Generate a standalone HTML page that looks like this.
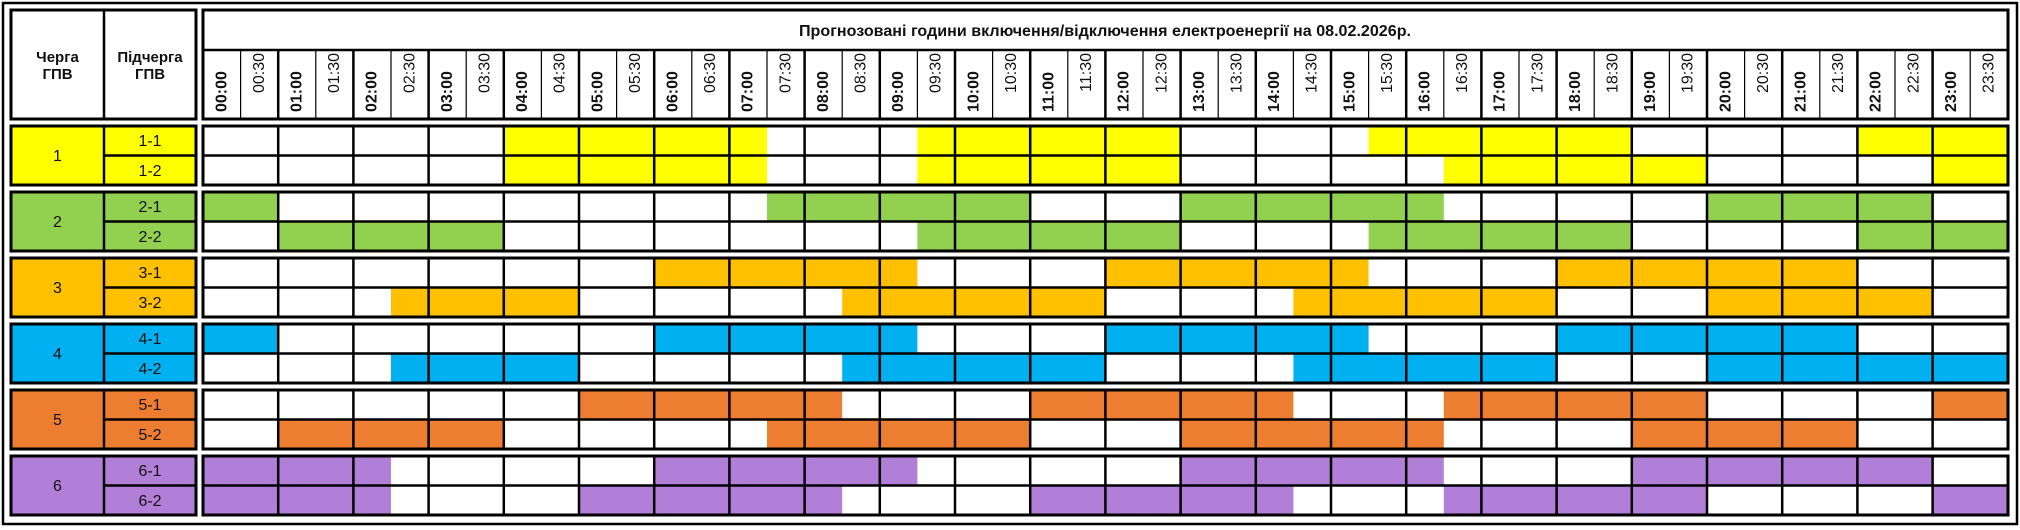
<!DOCTYPE html>
<html><head><meta charset="utf-8"><style>
html,body{margin:0;padding:0;background:#fff;}
svg{display:block;}
text{font-family:"Liberation Sans",Arial,sans-serif;fill:#111;}
</style></head><body>
<svg width="2020" height="530" viewBox="0 0 2020 530" xmlns="http://www.w3.org/2000/svg">
<rect x="0" y="0" width="2020" height="530" fill="#fff"/>
<rect x="3" y="3" width="2014" height="521" fill="none" stroke="#000" stroke-width="2.5"/>

<rect x="11" y="10" width="185" height="109" fill="#fff" stroke="#000" stroke-width="3"/>
<line x1="104" y1="10" x2="104" y2="119" stroke="#000" stroke-width="2.5"/>
<text x="57.5" y="62" font-size="15" font-weight="bold" text-anchor="middle">Черга</text>
<text x="57.5" y="79" font-size="15" font-weight="bold" text-anchor="middle">ГПВ</text>
<text x="150" y="62" font-size="15" font-weight="bold" text-anchor="middle">Підчерга</text>
<text x="150" y="79" font-size="15" font-weight="bold" text-anchor="middle">ГПВ</text>

<g stroke="#000">
<rect x="11" y="126" width="185" height="59" fill="#FFFF00" stroke-width="3"/>
<rect x="11" y="192" width="185" height="59" fill="#92D050" stroke-width="3"/>
<rect x="11" y="258" width="185" height="59" fill="#FFC000" stroke-width="3"/>
<rect x="11" y="324" width="185" height="59" fill="#00B0F0" stroke-width="3"/>
<rect x="11" y="390" width="185" height="59" fill="#ED7D31" stroke-width="3"/>
<rect x="11" y="456" width="185" height="59" fill="#B17ED8" stroke-width="3"/>
<g stroke-width="2.5">
<line x1="104" y1="126" x2="104" y2="185"/><line x1="104" y1="155.5" x2="196" y2="155.5"/>
<line x1="104" y1="192" x2="104" y2="251"/><line x1="104" y1="221.5" x2="196" y2="221.5"/>
<line x1="104" y1="258" x2="104" y2="317"/><line x1="104" y1="287.5" x2="196" y2="287.5"/>
<line x1="104" y1="324" x2="104" y2="383"/><line x1="104" y1="353.5" x2="196" y2="353.5"/>
<line x1="104" y1="390" x2="104" y2="449"/><line x1="104" y1="419.5" x2="196" y2="419.5"/>
<line x1="104" y1="456" x2="104" y2="515"/><line x1="104" y1="485.5" x2="196" y2="485.5"/>
</g></g>
<g font-size="16" text-anchor="middle">
<text x="57.5" y="161">1</text><text x="150" y="146">1-1</text><text x="150" y="176">1-2</text>
<text x="57.5" y="227">2</text><text x="150" y="212">2-1</text><text x="150" y="242">2-2</text>
<text x="57.5" y="293">3</text><text x="150" y="278">3-1</text><text x="150" y="308">3-2</text>
<text x="57.5" y="359">4</text><text x="150" y="344">4-1</text><text x="150" y="374">4-2</text>
<text x="57.5" y="425">5</text><text x="150" y="410">5-1</text><text x="150" y="440">5-2</text>
<text x="57.5" y="491">6</text><text x="150" y="476">6-1</text><text x="150" y="506">6-2</text>
</g>

<rect x="203" y="10" width="1805" height="109" fill="#fff" stroke="#000" stroke-width="3"/>
<line x1="203" y1="50" x2="2008" y2="50" stroke="#000" stroke-width="2.5"/>
<text x="1105" y="36" font-size="16" font-weight="bold" text-anchor="middle" textLength="612" lengthAdjust="spacingAndGlyphs">Прогнозовані години включення/відключення електроенергії на 08.02.2026р.</text>
<g stroke="#000" stroke-width="1.2">
<line x1="240.6" y1="50" x2="240.6" y2="119"/><line x1="315.8" y1="50" x2="315.8" y2="119"/><line x1="391" y1="50" x2="391" y2="119"/><line x1="466.2" y1="50" x2="466.2" y2="119"/><line x1="541.4" y1="50" x2="541.4" y2="119"/><line x1="616.6" y1="50" x2="616.6" y2="119"/><line x1="691.8" y1="50" x2="691.8" y2="119"/><line x1="767" y1="50" x2="767" y2="119"/><line x1="842.2" y1="50" x2="842.2" y2="119"/><line x1="917.4" y1="50" x2="917.4" y2="119"/><line x1="992.6" y1="50" x2="992.6" y2="119"/><line x1="1067.8" y1="50" x2="1067.8" y2="119"/><line x1="1143" y1="50" x2="1143" y2="119"/><line x1="1218.2" y1="50" x2="1218.2" y2="119"/><line x1="1293.4" y1="50" x2="1293.4" y2="119"/><line x1="1368.6" y1="50" x2="1368.6" y2="119"/><line x1="1443.8" y1="50" x2="1443.8" y2="119"/><line x1="1519" y1="50" x2="1519" y2="119"/><line x1="1594.2" y1="50" x2="1594.2" y2="119"/><line x1="1669.4" y1="50" x2="1669.4" y2="119"/><line x1="1744.6" y1="50" x2="1744.6" y2="119"/><line x1="1819.8" y1="50" x2="1819.8" y2="119"/><line x1="1895" y1="50" x2="1895" y2="119"/><line x1="1970.2" y1="50" x2="1970.2" y2="119"/>
</g>
<g stroke="#000" stroke-width="2.5">
<line x1="278.2" y1="50" x2="278.2" y2="119"/><line x1="353.4" y1="50" x2="353.4" y2="119"/><line x1="428.6" y1="50" x2="428.6" y2="119"/><line x1="503.8" y1="50" x2="503.8" y2="119"/><line x1="579" y1="50" x2="579" y2="119"/><line x1="654.2" y1="50" x2="654.2" y2="119"/><line x1="729.4" y1="50" x2="729.4" y2="119"/><line x1="804.6" y1="50" x2="804.6" y2="119"/><line x1="879.8" y1="50" x2="879.8" y2="119"/><line x1="955" y1="50" x2="955" y2="119"/><line x1="1030.2" y1="50" x2="1030.2" y2="119"/><line x1="1105.4" y1="50" x2="1105.4" y2="119"/><line x1="1180.6" y1="50" x2="1180.6" y2="119"/><line x1="1255.8" y1="50" x2="1255.8" y2="119"/><line x1="1331" y1="50" x2="1331" y2="119"/><line x1="1406.2" y1="50" x2="1406.2" y2="119"/><line x1="1481.4" y1="50" x2="1481.4" y2="119"/><line x1="1556.6" y1="50" x2="1556.6" y2="119"/><line x1="1631.8" y1="50" x2="1631.8" y2="119"/><line x1="1707" y1="50" x2="1707" y2="119"/><line x1="1782.2" y1="50" x2="1782.2" y2="119"/><line x1="1857.4" y1="50" x2="1857.4" y2="119"/><line x1="1932.6" y1="50" x2="1932.6" y2="119"/>
</g>
<g font-size="16" font-weight="bold" dominant-baseline="central">
<text transform="translate(221.8,112) rotate(-90)">00:00</text>
<text transform="translate(297,112) rotate(-90)">01:00</text>
<text transform="translate(372.2,112) rotate(-90)">02:00</text>
<text transform="translate(447.4,112) rotate(-90)">03:00</text>
<text transform="translate(522.6,112) rotate(-90)">04:00</text>
<text transform="translate(597.8,112) rotate(-90)">05:00</text>
<text transform="translate(673,112) rotate(-90)">06:00</text>
<text transform="translate(748.2,112) rotate(-90)">07:00</text>
<text transform="translate(823.4,112) rotate(-90)">08:00</text>
<text transform="translate(898.6,112) rotate(-90)">09:00</text>
<text transform="translate(973.8,112) rotate(-90)">10:00</text>
<text transform="translate(1049,112) rotate(-90)">11:00</text>
<text transform="translate(1124.2,112) rotate(-90)">12:00</text>
<text transform="translate(1199.4,112) rotate(-90)">13:00</text>
<text transform="translate(1274.6,112) rotate(-90)">14:00</text>
<text transform="translate(1349.8,112) rotate(-90)">15:00</text>
<text transform="translate(1425,112) rotate(-90)">16:00</text>
<text transform="translate(1500.2,112) rotate(-90)">17:00</text>
<text transform="translate(1575.4,112) rotate(-90)">18:00</text>
<text transform="translate(1650.6,112) rotate(-90)">19:00</text>
<text transform="translate(1725.8,112) rotate(-90)">20:00</text>
<text transform="translate(1801,112) rotate(-90)">21:00</text>
<text transform="translate(1876.2,112) rotate(-90)">22:00</text>
<text transform="translate(1951.4,112) rotate(-90)">23:00</text>
</g>
<g font-size="16" text-anchor="end" dominant-baseline="central">
<text transform="translate(259.4,53) rotate(-90)">00:30</text>
<text transform="translate(334.6,53) rotate(-90)">01:30</text>
<text transform="translate(409.8,53) rotate(-90)">02:30</text>
<text transform="translate(485,53) rotate(-90)">03:30</text>
<text transform="translate(560.2,53) rotate(-90)">04:30</text>
<text transform="translate(635.4,53) rotate(-90)">05:30</text>
<text transform="translate(710.6,53) rotate(-90)">06:30</text>
<text transform="translate(785.8,53) rotate(-90)">07:30</text>
<text transform="translate(861,53) rotate(-90)">08:30</text>
<text transform="translate(936.2,53) rotate(-90)">09:30</text>
<text transform="translate(1011.4,53) rotate(-90)">10:30</text>
<text transform="translate(1086.6,53) rotate(-90)">11:30</text>
<text transform="translate(1161.8,53) rotate(-90)">12:30</text>
<text transform="translate(1237,53) rotate(-90)">13:30</text>
<text transform="translate(1312.2,53) rotate(-90)">14:30</text>
<text transform="translate(1387.4,53) rotate(-90)">15:30</text>
<text transform="translate(1462.6,53) rotate(-90)">16:30</text>
<text transform="translate(1537.8,53) rotate(-90)">17:30</text>
<text transform="translate(1613,53) rotate(-90)">18:30</text>
<text transform="translate(1688.2,53) rotate(-90)">19:30</text>
<text transform="translate(1763.4,53) rotate(-90)">20:30</text>
<text transform="translate(1838.6,53) rotate(-90)">21:30</text>
<text transform="translate(1913.8,53) rotate(-90)">22:30</text>
<text transform="translate(1989,53) rotate(-90)">23:30</text>
</g>

<g transform="translate(203,0) scale(75.2,1)">
<g fill="#FFFF00">
<rect x="4" y="126" width="3.5" height="29.5"/><rect x="9.5" y="126" width="3.5" height="29.5"/><rect x="15.5" y="126" width="3.5" height="29.5"/><rect x="22" y="126" width="2" height="29.5"/>
<rect x="4" y="155.5" width="3.5" height="29.5"/><rect x="9.5" y="155.5" width="3.5" height="29.5"/><rect x="16.5" y="155.5" width="3.5" height="29.5"/><rect x="23" y="155.5" width="1" height="29.5"/>
</g>
<g fill="#92D050">
<rect x="0" y="192" width="1" height="29.5"/><rect x="7.5" y="192" width="3.5" height="29.5"/><rect x="13" y="192" width="3.5" height="29.5"/><rect x="20" y="192" width="3" height="29.5"/>
<rect x="1" y="221.5" width="3" height="29.5"/><rect x="9.5" y="221.5" width="3.5" height="29.5"/><rect x="15.5" y="221.5" width="3.5" height="29.5"/><rect x="22" y="221.5" width="2" height="29.5"/>
</g>
<g fill="#FFC000">
<rect x="6" y="258" width="3.5" height="29.5"/><rect x="12" y="258" width="3.5" height="29.5"/><rect x="18" y="258" width="4" height="29.5"/>
<rect x="2.5" y="287.5" width="2.5" height="29.5"/><rect x="8.5" y="287.5" width="3.5" height="29.5"/><rect x="14.5" y="287.5" width="3.5" height="29.5"/><rect x="20" y="287.5" width="3" height="29.5"/>
</g>
<g fill="#00B0F0">
<rect x="0" y="324" width="1" height="29.5"/><rect x="6" y="324" width="3.5" height="29.5"/><rect x="12" y="324" width="3.5" height="29.5"/><rect x="18" y="324" width="4" height="29.5"/>
<rect x="2.5" y="353.5" width="2.5" height="29.5"/><rect x="8.5" y="353.5" width="3.5" height="29.5"/><rect x="14.5" y="353.5" width="3.5" height="29.5"/><rect x="20" y="353.5" width="4" height="29.5"/>
</g>
<g fill="#ED7D31">
<rect x="5" y="390" width="3.5" height="29.5"/><rect x="11" y="390" width="3.5" height="29.5"/><rect x="16.5" y="390" width="3.5" height="29.5"/><rect x="23" y="390" width="1" height="29.5"/>
<rect x="1" y="419.5" width="3" height="29.5"/><rect x="7.5" y="419.5" width="3.5" height="29.5"/><rect x="13" y="419.5" width="3.5" height="29.5"/><rect x="19" y="419.5" width="3" height="29.5"/>
</g>
<g fill="#B17ED8">
<rect x="0" y="456" width="2.5" height="29.5"/><rect x="6" y="456" width="3.5" height="29.5"/><rect x="13" y="456" width="3.5" height="29.5"/><rect x="19" y="456" width="4" height="29.5"/>
<rect x="0" y="485.5" width="2.5" height="29.5"/><rect x="5" y="485.5" width="3.5" height="29.5"/><rect x="11" y="485.5" width="3.5" height="29.5"/><rect x="16.5" y="485.5" width="3.5" height="29.5"/><rect x="23" y="485.5" width="1" height="29.5"/>
</g>
</g>

<g stroke="#000" fill="none">
<g stroke-width="3">
<rect x="203" y="126" width="1805" height="59"/><rect x="203" y="192" width="1805" height="59"/><rect x="203" y="258" width="1805" height="59"/><rect x="203" y="324" width="1805" height="59"/><rect x="203" y="390" width="1805" height="59"/><rect x="203" y="456" width="1805" height="59"/>
</g>
<g stroke-width="2.5">
<line x1="203" y1="155.5" x2="2008" y2="155.5"/><line x1="203" y1="221.5" x2="2008" y2="221.5"/><line x1="203" y1="287.5" x2="2008" y2="287.5"/><line x1="203" y1="353.5" x2="2008" y2="353.5"/><line x1="203" y1="419.5" x2="2008" y2="419.5"/><line x1="203" y1="485.5" x2="2008" y2="485.5"/>
</g>
<g stroke-width="2.5" stroke-dasharray="59 7">
<line x1="278.2" y1="126" x2="278.2" y2="515"/><line x1="353.4" y1="126" x2="353.4" y2="515"/><line x1="428.6" y1="126" x2="428.6" y2="515"/><line x1="503.8" y1="126" x2="503.8" y2="515"/><line x1="579" y1="126" x2="579" y2="515"/><line x1="654.2" y1="126" x2="654.2" y2="515"/><line x1="729.4" y1="126" x2="729.4" y2="515"/><line x1="804.6" y1="126" x2="804.6" y2="515"/><line x1="879.8" y1="126" x2="879.8" y2="515"/><line x1="955" y1="126" x2="955" y2="515"/><line x1="1030.2" y1="126" x2="1030.2" y2="515"/><line x1="1105.4" y1="126" x2="1105.4" y2="515"/><line x1="1180.6" y1="126" x2="1180.6" y2="515"/><line x1="1255.8" y1="126" x2="1255.8" y2="515"/><line x1="1331" y1="126" x2="1331" y2="515"/><line x1="1406.2" y1="126" x2="1406.2" y2="515"/><line x1="1481.4" y1="126" x2="1481.4" y2="515"/><line x1="1556.6" y1="126" x2="1556.6" y2="515"/><line x1="1631.8" y1="126" x2="1631.8" y2="515"/><line x1="1707" y1="126" x2="1707" y2="515"/><line x1="1782.2" y1="126" x2="1782.2" y2="515"/><line x1="1857.4" y1="126" x2="1857.4" y2="515"/><line x1="1932.6" y1="126" x2="1932.6" y2="515"/>
</g>
</g>
</svg>
</body></html>
